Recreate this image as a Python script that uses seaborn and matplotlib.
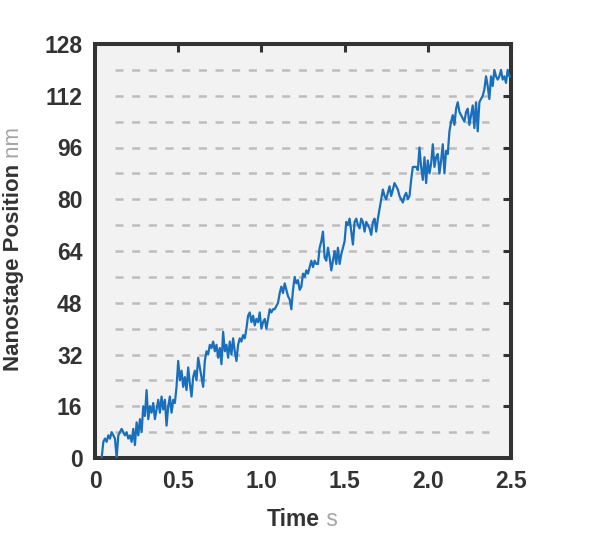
import numpy as np
import pandas as pd
import seaborn as sns
import matplotlib
matplotlib.use("Agg")
import matplotlib.pyplot as plt

# sampling grid of the trace (s), 10 ms steps from 0.04 s to 2.50 s
t_start, t_end, t_step = 0.04, 2.50, 0.01

# nanostage position (nm), one row per 0.1 s
position = [
    0, 5, 6, 5, 7, 6,
    8, 7, 6, 0, 7, 8, 9, 8, 7, 8,
    6, 7, 5, 9, 4, 11, 7, 12, 8, 16,
    13, 21, 12, 16, 14, 17, 12, 15, 18, 14,
    19, 15, 18, 10, 16, 19, 14, 18, 17, 22,
    30, 24, 27, 22, 25, 21, 28, 23, 19, 25,
    27, 24, 31, 28, 25, 22, 30, 33, 32, 35,
    34, 36, 33, 35, 31, 34, 29, 39, 33, 35,
    31, 36, 32, 37, 33, 30, 35, 37, 36, 38,
    37, 40, 44, 45, 42, 44, 41, 43, 42, 45,
    40, 42, 43, 40, 43, 46, 45, 46, 46, 47,
    48, 51, 53, 51, 54, 52, 50, 49, 46, 52,
    56, 54, 55, 52, 53, 57, 56, 58, 57, 59,
    61, 59, 61, 60, 60, 65, 67, 70, 62, 61,
    65, 62, 58, 61, 64, 60, 65, 60, 63, 65,
    67, 73, 72, 74, 70, 66, 73, 74, 72, 71,
    74, 73, 70, 73, 72, 71, 69, 73, 74, 70,
    74, 77, 80, 83, 81, 80, 82, 84, 81, 83,
    85, 84, 83, 81, 80, 79, 81, 82, 80, 81,
    86, 90, 90, 90, 89, 96, 90, 86, 93, 85,
    92, 88, 91, 97, 90, 93, 94, 88, 92, 97,
    88, 95, 94, 101, 104, 106, 103, 108, 110, 107,
    106, 105, 104, 107, 108, 103, 106, 109, 102, 110,
    101, 110, 111, 112, 114, 118, 115, 111, 118, 115,
    120, 118, 117, 118, 120, 117, 118, 116, 120, 118,
    118,
]

# dashed guide levels (nm) and axis ticks
step_levels = [8, 16, 24, 32, 40, 48, 56, 64, 72, 80, 88, 96, 104, 112, 120]
guide_span = (0.12, 2.37)
x_ticks = [0, 0.5, 1.0, 1.5, 2.0, 2.5]
x_labels = ["0", "0.5", "1.0", "1.5", "2.0", "2.5"]
y_ticks = [0, 16, 32, 48, 64, 80, 96, 112, 128]

time = np.round(np.arange(t_start, t_end + t_step / 2, t_step), 2)
df = pd.DataFrame({"time": time, "position": position})

DARK = "#333333"
LIGHT = "#a6a6a6"
BLUE = "#1a6fbd"

sns.set_style("white", {"axes.facecolor": "#f2f2f2"})
plt.rcParams["font.family"] = ["Liberation Sans", "DejaVu Sans"]
plt.rcParams["lines.scale_dashes"] = False

fig = plt.figure(figsize=(6.05, 5.42), dpi=100)
ax = fig.add_axes([95 / 605, 84 / 542, 416 / 605, 414 / 542])

ax.hlines(step_levels, *guide_span, colors="#bdbdbd", linewidth=1.8,
          linestyles=(0, (5.8, 6.2)), zorder=1)
sns.lineplot(data=df, x="time", y="position", ax=ax, color=BLUE,
             linewidth=1.6, zorder=3)

ax.set_xlim(0, 2.5)
ax.set_ylim(0, 128)
ax.set_xticks(x_ticks)
ax.set_xticklabels(x_labels)
ax.set_yticks(y_ticks)
ax.set_xlabel("")
ax.set_ylabel("")

for s in ax.spines.values():
    s.set_visible(True)
    s.set_color(DARK)
    s.set_linewidth(2.9)
ax.tick_params(direction="in", length=6, width=2.2, color=DARK,
               top=True, right=True, labelsize=16.5, labelcolor=DARK)
ax.tick_params(axis="x", pad=9)
ax.tick_params(axis="y", pad=9)
for lab in ax.get_xticklabels() + ax.get_yticklabels():
    lab.set_fontweight("bold")


def two_tone(x, y, bold, light, rotation=0, size=15):
    # bold dark word followed by a light unit, centred on (x, y) in pixels
    r = fig.canvas.get_renderer()
    t1 = fig.text(0, 0, bold, fontsize=size, fontweight="bold", color=DARK)
    t2 = fig.text(0, 0, " " + light, fontsize=size, color=LIGHT)
    w1 = t1.get_window_extent(r).width
    w2 = t2.get_window_extent(r).width
    half = (w1 + w2) / 2
    W, H = fig.bbox.width, fig.bbox.height
    for t in (t1, t2):
        t.set_rotation(rotation)
        t.set_rotation_mode("anchor")
        t.set_va("baseline")
        t.set_ha("left")
    if rotation == 0:
        t1.set_position(((x - half) / W, 1 - y / H))
        t2.set_position(((x - half + w1) / W, 1 - y / H))
    else:
        t1.set_position((x / W, 1 - (y + half) / H))
        t2.set_position((x / W, 1 - (y + half - w1) / H))


two_tone(302, 526, "Time", "s", size=16.5)
two_tone(19, 249, "Nanostage Position", "nm", rotation=90, size=16)

fig.savefig("out.png", dpi=100)
